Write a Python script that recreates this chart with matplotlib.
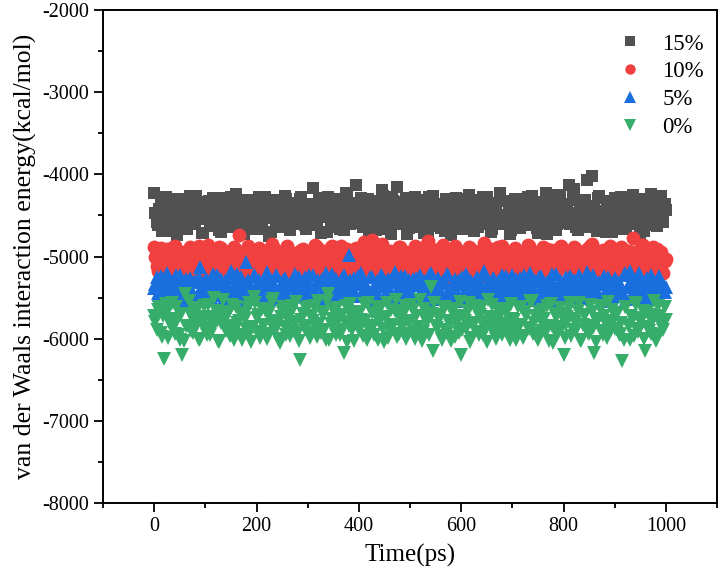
import matplotlib
matplotlib.use("Agg")
import matplotlib.pyplot as plt
import numpy as np
from matplotlib.ticker import MultipleLocator

plt.rcParams['font.family'] = ['Liberation Serif', 'DejaVu Serif']
plt.rcParams['axes.unicode_minus'] = False

# van der Waals interaction energy (kcal/mol)
# samples at 0, 5, 10 ... 1000 ps
e15 = [
    -4230, -4580, -4420, -4690, -4350, -4510, -4620, -4300, -4470, -4740, -4390, -4550, -4310, -4660, -4260, -4490, -4600, -4380, -4520, -4710,
    -4340, -4450, -4630, -4290, -4560, -4410, -4700, -4480, -4330, -4590, -4270, -4530, -4240, -4650, -4460, -4720, -4370, -4500, -4610, -4320,
    -4540, -4280, -4670, -4420, -4360, -4750, -4490, -4310, -4570, -4640, -4400, -4260, -4530, -4680, -4350, -4470, -4590, -4300, -4440, -4620,
    -4380, -4520, -4165, -4600, -4450, -4710, -4330, -4490, -4270, -4560, -4640, -4400, -4300, -4540, -4680, -4226, -4470, -4590, -4350, -4130,
    -4510, -4290, -4620, -4430, -4700, -4360, -4550, -4470, -4320, -4190, -4580, -4660, -4400, -4280, -4530, -4153, -4610, -4450, -4340, -4730,
    -4390, -4560, -4270, -4640, -4480, -4310, -4590, -4700, -4420, -4260, -4520, -4370, -4650, -4460, -4300, -4580, -4740, -4410, -4290, -4540,
    -4630, -4350, -4480, -4250, -4570, -4690, -4400, -4310, -4520, -4600, -4280, -4450, -4660, -4370, -4540, -4230, -4490, -4610, -4330, -4720,
    -4440, -4300, -4580, -4650, -4380, -4510, -4270, -4620, -4460, -4340, -4710, -4550, -4410, -4226, -4600, -4480, -4320, -4680, -4250, -4530,
    -4360, -4590, -4130, -4470, -4180, -4640, -4310, -4520, -4420, -4070, -4560, -4020, -4380, -4690, -4260, -4500, -4610, -4330, -4450, -4700,
    -4290, -4540, -4410, -4660, -4350, -4480, -4600, -4250, -4520, -4380, -4720, -4300, -4570, -4440, -4240, -4620, -4330, -4500, -4260, -4580,
    -4430,
]
e10 = [
    -4880, -5120, -4960, -5230, -5040, -4910, -5170, -5010, -4870, -5260, -5080, -4940, -5150, -5000, -4890, -5210, -5060, -4930, -5190, -4990,
    -5110, -4860, -5020, -5240, -4950, -5130, -4900, -5070, -5200, -4970, -5050, -4880, -5160, -4740, -5010, -5250, -4920, -5090, -5180, -4960,
    -5030, -4900, -5140, -5270, -4980, -5060, -4850, -5190, -5020, -4940, -5100, -5220, -4870, -5000, -5150, -4960, -5080, -5240, -4910, -5050,
    -5170, -4950, -5010, -4860, -5210, -5090, -4930, -5130, -5040, -4890, -5250, -4990, -5110, -4870, -5180, -5020, -4940, -5070, -5230, -4900,
    -5060, -4980, -4820, -5160, -5010, -4800, -5120, -4950, -5200, -4850, -5080, -5040, -4930, -5260, -4990, -5140, -4880, -5100, -4960, -5220,
    -5000, -5150, -4870, -5070, -5240, -4940, -5110, -4810, -5030, -5190, -4920, -5090, -5050, -4860, -5170, -4980, -5230, -4900, -5060, -5130,
    -4950, -5200, -5020, -4880, -5120, -4990, -5260, -4930, -5080, -4840, -5160, -5040, -4910, -5210, -5000, -5100, -4870, -5180, -4960, -5050,
    -5140, -4900, -5070, -5230, -4970, -5110, -4860, -5030, -5190, -4940, -5090, -5250, -4890, -5010, -5160, -4920, -5060, -5200, -4980, -4870,
    -5100, -5010, -4930, -5180, -4880, -5050, -5220, -4960, -5130, -4910, -5070, -4850, -5170, -5020, -4940, -5240, -4990, -5110, -4870, -5060,
    -5190, -4950, -5040, -4900, -5150, -5000, -5230, -4775, -5080, -4930, -5120, -4860, -5210, -4980, -5060, -4890, -5170, -5010, -4940, -5200,
    -5030,
]
e5 = [
    -5380, -5250, -5470, -5310, -5520, -5200, -5420, -5350, -5280, -5490, -5230, -5400, -5330, -5540, -5260, -5440, -5300, -5460, -5125, -5370,
    -5290, -5500, -5340, -5210, -5450, -5390, -5270, -5530, -5320, -5410, -5180, -5236, -5480, -5360, -5250, -5430, -5065, -5310, -5510, -5220,
    -5400, -5280, -5460, -5350, -5190, -5520, -5300, -5420, -5240, -5490, -5370, -5260, -5440, -5330, -5550, -5210, -5390, -5300, -5470, -5250,
    -5360, -5480, -5220, -5410, -5290, -5530, -5340, -5200, -5450, -5310, -5390, -5270, -5500, -5350, -5230, -5430, -4980, -5380, -5260, -5470,
    -5320, -5200, -5440, -5370, -5510, -5250, -5400, -5300, -5480, -5237, -5350, -5420, -5280, -5530, -5190, -5460, -5330, -5390, -5240, -5500,
    -5410, -5270, -5350, -5490, -5220, -5380, -5310, -5450, -5200, -5520, -5340, -5260, -5430, -5300, -5470, -5230, -5400, -5360, -5540, -5280,
    -5330, -5460, -5210, -5390, -5300, -5500, -5250, -5420, -5350, -5180, -5480, -5320, -5440, -5270, -5370, -5510, -5230, -5400, -5290, -5450,
    -5230, -5360, -5490, -5260, -5410, -5320, -5530, -5200, -5380, -5300, -5450, -5240, -5420, -5340, -5500, -5280, -5390, -5210, -5470, -5310,
    -5440, -5250, -5370, -5510, -5290, -5400, -5220, -5460, -5330, -5190, -5480, -5350, -5270, -5420, -5310, -5530, -5240, -5390, -5300, -5450,
    -5260, -5410, -5340, -5480, -5200, -5370, -5176, -5430, -5290, -5520, -5250, -5390, -5310, -5460, -5220, -5350, -5500, -5280, -5420, -5330,
    -5370,
]
e0 = [
    -5720, -5890, -5610, -5980, -6250, -5680, -5820, -5560, -5940, -5770, -6020, -6200, -5455, -5850, -5700, -5930, -5630, -5800, -6000, -5740,
    -5870, -5590, -5960, -5760, -5660, -6030, -5810, -5530, -5910, -5690, -5840, -6010, -5620, -5780, -5950, -5710, -5880, -5570, -6040, -5490,
    -5750, -5920, -5640, -5830, -6000, -5690, -5550, -5900, -5790, -6050, -5660, -5860, -5730, -5970, -5600, -5810, -5940, -6260, -5700, -5880,
    -5620, -5990, -5780, -5860, -5540, -5930, -5710, -6020, -5455, -5820, -5650, -5960, -5760, -5890, -6180, -5600, -5840, -5730, -6030, -5680,
    -5900, -5770, -5580, -6010, -5850, -5690, -5950, -5620, -5800, -5740, -6040, -5560, -5910, -5830, -5660, -5980, -5720, -5870, -5600, -5940,
    -5790, -5650, -6000, -5860, -5530, -5920, -5760, -5690, -5371, -6150, -5840, -5710, -5970, -5610, -5890, -5780, -6030, -5640, -5820, -5930,
    -6200, -5730, -5880, -5570, -5990, -5810, -5680, -5950, -5620, -5860, -6040, -5740, -5590, -5910, -5800, -5700, -5960, -5640, -5850, -6010,
    -5760, -5900, -5610, -5830, -5990, -5680, -5870, -5540, -5940, -5720, -6020, -5790, -5650, -5920, -5850, -5580, -6050, -5740, -5880, -5700,
    -6200, -5820, -5630, -5970, -5760, -5890, -5560, -6030, -5710, -5850, -5940, -5670, -6180, -5800, -5600, -5910, -5730, -5990, -5840, -5650,
    -5880, -5700, -5960, -6270, -5620, -5830, -6010, -5750, -5570, -5920, -5790, -5660, -6150, -5860, -5940, -5710, -6030, -5600, -5810, -5900,
    -5770,
]

# in-between samples at 2.5, 7.5 ... 997.5 ps
h15 = [
    -4470, -4620, -4330, -4550, -4280, -4690, -4410, -4520, -4360, -4600, -4450, -4300, -4650, -4500, -4390, -4570, -4260, -4480, -4710, -4420,
    -4540, -4320, -4610, -4440, -4370, -4680, -4500, -4290, -4560, -4430, -4640, -4350, -4490, -4730, -4400, -4580, -4310, -4520, -4460, -4660,
    -4380, -4590, -4450, -4270, -4530, -4700, -4420, -4610, -4340, -4500, -4560, -4300, -4640, -4470, -4390, -4600, -4510, -4280, -4430, -4670,
    -4550, -4360, -4480, -4620, -4290, -4520, -4410, -4700, -4460, -4330, -4580, -4440, -4660, -4370, -4500, -4250, -4610, -4530, -4400, -4560,
    -4350, -4640, -4470, -4300, -4590, -4420, -4680, -4510, -4380, -4260, -4540, -4450, -4720, -4320, -4490, -4600, -4410, -4560, -4290, -4650,
    -4480, -4340, -4620, -4530, -4400, -4710, -4450, -4280, -4570, -4510, -4360, -4630, -4440, -4690, -4310, -4550, -4470, -4600, -4390, -4520,
    -4660, -4430, -4300, -4580, -4490, -4370, -4640, -4510, -4270, -4550, -4420, -4700, -4460, -4350, -4610, -4500, -4320, -4570, -4440, -4680,
    -4390, -4540, -4620, -4300, -4480, -4590, -4410, -4260, -4530, -4650, -4370, -4500, -4440, -4720, -4330, -4560, -4470, -4610, -4280, -4520,
    -4440, -4360, -4600, -4250, -4510, -4680, -4400, -4550, -4310, -4470, -4640, -4380, -4530, -4290, -4590, -4450, -4700, -4340, -4500, -4620,
    -4410, -4570, -4280, -4490, -4660, -4350, -4540, -4430, -4600, -4300, -4520, -4690, -4380, -4470, -4560, -4270, -4630, -4420, -4510, -4360,
]
h10 = [
    -5010, -5180, -4900, -5090, -5220, -4950, -5060, -4880, -5140, -5030, -4970, -5240, -5080, -4920, -5120, -5000, -5190, -4870, -5050, -5160,
    -4940, -5100, -5230, -4990, -5070, -4890, -5150, -5020, -4960, -5210, -5040, -4910, -5130, -5250, -4980, -5080, -4870, -5170, -5030, -4950,
    -5110, -5000, -5200, -4930, -5060, -5140, -4880, -5020, -5230, -4970, -5090, -4900, -5160, -5040, -4990, -5260, -5070, -4920, -5120, -5010,
    -4960, -5190, -5050, -4890, -5150, -5000, -5220, -4940, -5080, -4870, -5130, -5030, -4980, -5240, -5060, -4910, -5110, -5170, -4950, -5020,
    -5200, -4900, -5070, -5140, -4860, -5040, -5180, -4990, -5100, -4930, -5250, -5010, -4970, -5150, -5080, -4890, -5210, -5050, -4940, -5120,
    -5000, -5230, -4920, -5060, -5170, -4880, -5090, -5030, -4960, -5190, -5110, -4910, -5040, -5260, -4980, -5140, -5070, -4870, -5160, -5020,
    -4950, -5100, -5210, -4900, -5050, -5180, -4990, -5120, -4930, -5240, -5080, -4960, -5010, -5150, -4890, -5200, -5060, -4940, -5130, -5030,
    -5170, -4920, -5090, -5220, -4980, -5040, -4870, -5140, -5000, -5190, -4950, -5110, -5250, -4910, -5070, -5020, -4970, -5160, -4880, -5100,
    -5060, -4940, -5230, -5010, -4900, -5150, -5080, -4960, -5200, -5030, -4870, -5120, -5050, -4990, -5180, -4920, -5090, -5240, -4950, -5040,
    -5140, -5000, -4890, -5210, -5070, -4930, -5160, -5020, -4980, -5110, -4860, -5190, -5050, -4940, -5230, -5080, -4910, -5130, -5000, -5060,
]
h5 = [
    -5330, -5450, -5240, -5400, -5510, -5290, -5370, -5480, -5220, -5420, -5340, -5530, -5270, -5390, -5460, -5310, -5500, -5250, -5360, -5440,
    -5280, -5410, -5520, -5320, -5230, -5470, -5380, -5300, -5490, -5260, -5430, -5350, -5210, -5460, -5330, -5540, -5290, -5400, -5480, -5240,
    -5370, -5500, -5310, -5420, -5260, -5450, -5340, -5220, -5510, -5390, -5280, -5440, -5360, -5530, -5300, -5410, -5250, -5470, -5330, -5490,
    -5230, -5380, -5460, -5310, -5520, -5270, -5400, -5350, -5440, -5210, -5490, -5320, -5420, -5260, -5370, -5510, -5290, -5450, -5340, -5240,
    -5480, -5300, -5410, -5530, -5250, -5380, -5460, -5330, -5220, -5500, -5360, -5270, -5430, -5310, -5540, -5390, -5240, -5470, -5350, -5280,
    -5420, -5510, -5260, -5340, -5450, -5300, -5490, -5230, -5400, -5370, -5520, -5290, -5440, -5320, -5210, -5480, -5380, -5270, -5460, -5330,
    -5250, -5410, -5500, -5310, -5360, -5530, -5280, -5430, -5220, -5470, -5340, -5400, -5260, -5510, -5300, -5450, -5390, -5240, -5490, -5350,
    -5440, -5270, -5380, -5520, -5230, -5460, -5330, -5410, -5290, -5500, -5250, -5370, -5480, -5310, -5420, -5210, -5530, -5360, -5280, -5450,
    -5320, -5490, -5240, -5400, -5470, -5300, -5350, -5510, -5260, -5430, -5380, -5220, -5460, -5340, -5540, -5290, -5410, -5250, -5500, -5370,
    -5460, -5310, -5420, -5230, -5520, -5350, -5280, -5440, -5390, -5200, -5480, -5330, -5260, -5510, -5400, -5300, -5450, -5240, -5370, -5430,
]
h0 = [
    -5800, -5650, -5930, -5720, -5580, -5990, -5760, -5870, -5620, -5950, -5700, -6030, -5840, -5540, -5910, -5780, -5680, -6010, -5820, -5600,
    -5960, -5740, -5880, -5510, -5790, -6040, -5670, -5850, -5730, -5970, -5590, -5900, -5810, -5690, -6020, -5760, -5630, -5920, -5860, -5570,
    -5710, -5990, -5830, -5650, -5940, -5780, -5520, -5880, -6000, -5740, -5610, -5960, -5800, -5690, -5910, -5550, -6030, -5770, -5850, -5640,
    -5930, -5720, -5600, -5980, -5820, -5680, -5890, -5540, -6010, -5760, -5860, -5630, -5950, -5710, -5800, -6040, -5580, -5900, -5740, -5830,
    -5670, -5970, -5790, -5560, -5920, -5850, -5700, -6020, -5610, -5880, -5750, -5990, -5650, -5830, -5530, -5940, -5780, -5690, -6000, -5810,
    -5590, -5910, -5730, -5860, -6030, -5640, -5800, -5950, -5700, -5570, -5870, -5760, -6010, -5620, -5930, -5820, -5680, -5980, -5740, -5550,
    -5890, -5780, -5660, -6040, -5840, -5600, -5920, -5710, -5960, -5800, -5530, -5870, -5750, -6000, -5640, -5900, -5820, -5690, -5940, -5580,
    -5770, -6020, -5850, -5620, -5970, -5730, -5880, -5540, -5810, -5990, -5670, -5910, -5760, -5600, -6030, -5840, -5700, -5950, -5630, -5860,
    -5990, -5740, -5570, -5900, -5800, -5660, -6010, -5830, -5710, -5930, -5590, -5870, -6040, -5760, -5640, -5960, -5820, -5550, -5890, -5780,
    -5690, -5940, -5810, -6020, -5620, -5850, -5730, -5970, -5580, -5880, -5760, -6000, -5670, -5910, -5800, -5540, -5950, -5720, -5860, -5610,
]

labels = ['15%', '10%', '5%', '0%']
main_vals = [e15, e10, e5, e0]
half_vals = [h15, h10, h5, h0]
colors = ['#515151', '#F14040', '#1A6FDF', '#37AD6B']
markers = ['s', 'o', '^', 'v']
msizes = [9.2, 10.0, 10.6, 10.6]

fig = plt.figure(figsize=(7.19, 5.83), dpi=100)
ax = fig.add_axes([0.1433, 0.1372, 0.854, 0.8456])

for ev, hv, lab, c, m, ms in zip(main_vals, half_vals, labels, colors, markers, msizes):
    t_main = 5.0 * np.arange(len(ev))
    t_half = 2.5 + 5.0 * np.arange(len(hv))
    t = np.concatenate([t_main, t_half])
    v = np.concatenate([ev, hv])
    order = np.argsort(t)
    ax.plot(t[order], v[order], linestyle='none', marker=m, markersize=ms,
            color=c, markeredgewidth=0, label=lab)

ax.set_xlim(-100, 1100)
ax.set_ylim(-8000, -2000)
ax.xaxis.set_major_locator(MultipleLocator(200))
ax.xaxis.set_minor_locator(MultipleLocator(100))
ax.yaxis.set_major_locator(MultipleLocator(1000))
ax.yaxis.set_minor_locator(MultipleLocator(500))
ax.tick_params(which='both', direction='out', width=1.3, labelsize=14.5,
               top=False, right=False)
ax.tick_params(which='major', length=6.5)
ax.tick_params(which='minor', length=3.5)
for sp in ax.spines.values():
    sp.set_linewidth(1.4)

ax.set_xlabel('Time(ps)', fontsize=18, labelpad=6)
ax.set_ylabel('van der Waals interaction energy(kcal/mol)', fontsize=18.5, labelpad=4)

ax.legend(loc='upper right', bbox_to_anchor=(1.005, 0.985), frameon=False,
          fontsize=16.5, handlelength=0.8, handletextpad=1.0,
          labelspacing=0.3, borderaxespad=0.3, markerscale=0.75)

fig.savefig('out.png', dpi=100)
